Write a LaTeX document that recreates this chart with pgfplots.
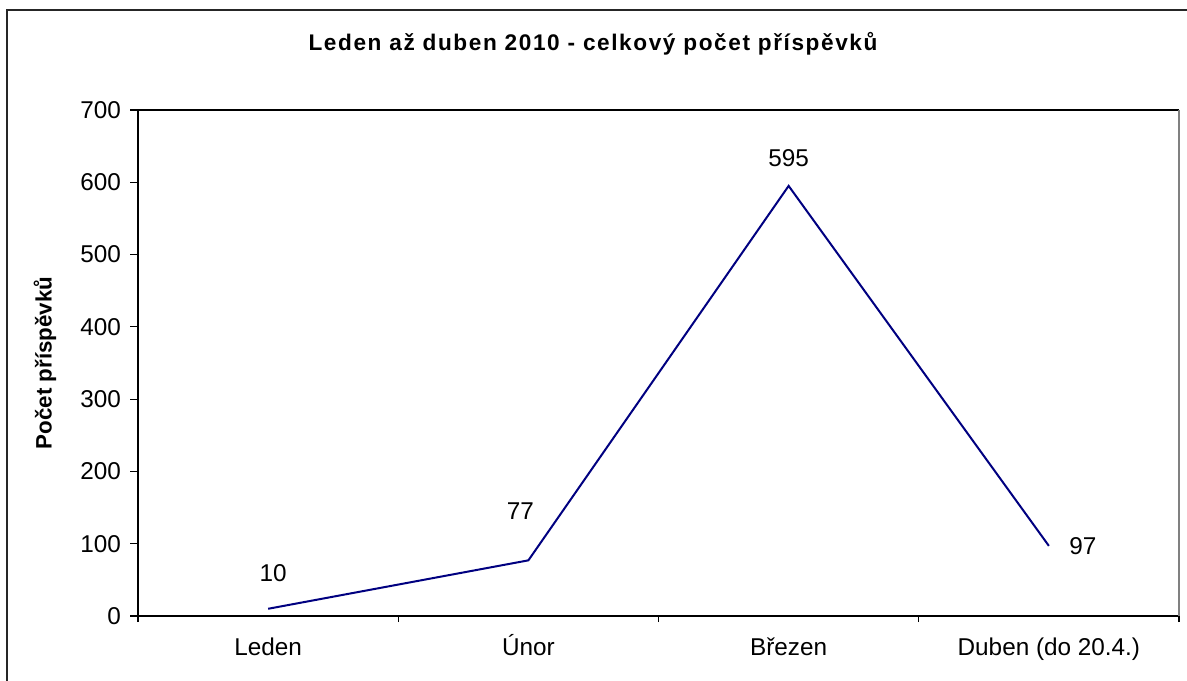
\documentclass[border=0pt]{standalone}
\usepackage{fontspec}
\setmainfont{Liberation Sans}
\newfontfamily\titlefont[LetterSpace=7]{Liberation Sans}
\usepackage{pgfplots}
\pgfplotsset{compat=1.18}
\definecolor{navyline}{RGB}{0,0,128}
\begin{document}
\begin{tikzpicture}[x=1bp,y=1bp]
\useasboundingbox (0,0) rectangle (593.5,340);
\draw[line width=1.1bp, black!85] (3.5,-5) -- (3.5,335) -- (600,335);
\node[font=\titlefont\fontsize{11.35}{13.5}\selectfont\bfseries] at (296.5,318) {Leden až duben 2010 - celkový počet příspěvků};
\node[rotate=90, font=\fontsize{11.2}{13}\selectfont\bfseries] at (22.5,158.5) {Počet příspěvků};
\begin{axis}[
  at={(69bp,32bp)}, anchor=south west,
  width=520.5bp, height=253bp, scale only axis,
  xmin=-0.5, xmax=3.5, ymin=0, ymax=700,
  axis x line*=bottom, axis y line*=left,
  axis line style={line width=0.8bp, black},
  xtick={0,1,2,3},
  xticklabels={Leden, Únor, Březen, Duben (do 20.4.)},
  minor xtick={-0.5,0.5,1.5,2.5,3.5},
  ytick={0,100,...,700},
  tick align=outside,
  xtick style={draw=none},
  minor x tick style={draw=black, line width=0.6bp},
  minor tick length=3bp,
  ytick style={black, line width=0.6bp},
  major tick length=4bp,
  tick label style={font=\fontsize{12.2}{14.6}\selectfont},
  /pgf/number format/assume math mode=true,
  yticklabel style={xshift=-1bp},
  xticklabel style={yshift=-4bp, text height=1.6ex, text depth=0.3ex},
  clip=false,
]
\addplot[navyline, line width=1bp] coordinates {(0,10) (1,77) (2,595) (3,97)};
\draw[line width=0.8bp, black] (rel axis cs:0,1) -- (rel axis cs:1,1);
\draw[line width=1bp, gray] (rel axis cs:1,1) -- (rel axis cs:1,0);
\begin{scope}[font=\fontsize{12.2}{14.6}\selectfont]
\node at (axis cs:0,10) [xshift=2.5bp, yshift=18bp] {10};
\node at (axis cs:1,77) [xshift=-4bp, yshift=24.5bp] {77};
\node at (axis cs:2,595) [yshift=14bp] {595};
\node at (axis cs:3,97) [xshift=17bp] {97};
\end{scope}
\end{axis}
\end{tikzpicture}
\end{document}
